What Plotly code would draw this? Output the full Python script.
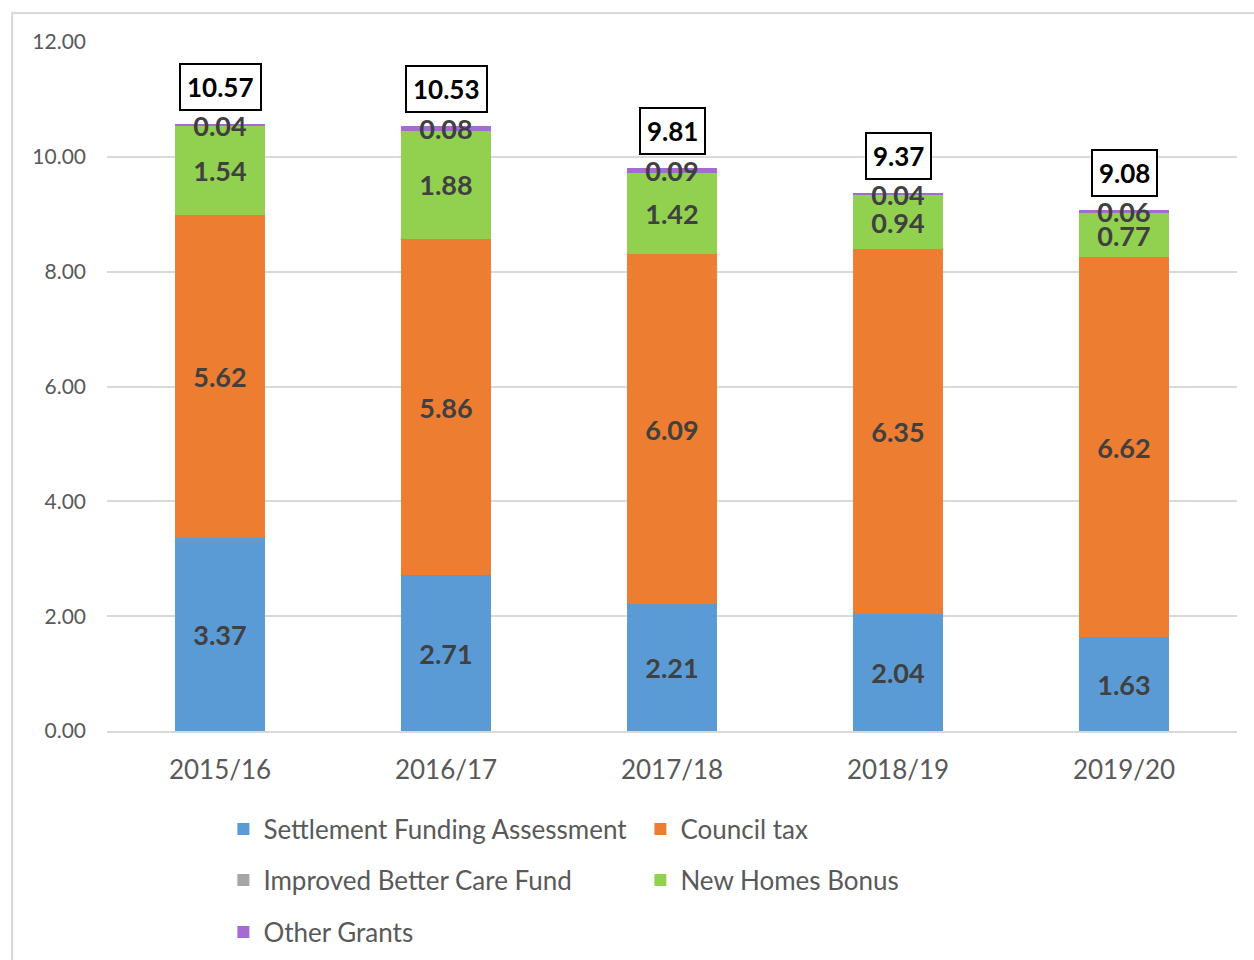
import plotly.graph_objects as go

categories = ["2015/16", "2016/17", "2017/18", "2018/19", "2019/20"]
sfa = [3.37, 2.71, 2.21, 2.04, 1.63]
council_tax = [5.62, 5.86, 6.09, 6.35, 6.62]
ibcf = [0, 0, 0, 0, 0]
nhb = [1.54, 1.88, 1.42, 0.94, 0.77]
other = [0.04, 0.08, 0.09, 0.04, 0.06]
totals = [10.57, 10.53, 9.81, 9.37, 9.08]
y_ticks = [0, 2, 4, 6, 8, 10, 12]

FONT = "Lato"
LABEL = dict(family=FONT, size=27, color="#404040")

series = [
    ("Settlement Funding Assessment", sfa, "#5B9BD5", "legend"),
    ("Council tax", council_tax, "#ED7D31", "legend"),
    ("Improved Better Care Fund", ibcf, "#A5A5A5", "legend2"),
    ("New Homes Bonus", nhb, "#92D050", "legend2"),
    ("Other Grants", other, "#A66BD3", "legend3"),
]

fig = go.Figure()
for name, vals, color, leg in series:
    txt = [f"<b>{v:.2f}</b>" if v > 0 else "" for v in vals]
    fig.add_trace(go.Bar(
        x=categories, y=vals, name=name, marker=dict(color=color, line=dict(width=0)),
        text=txt, textposition="inside", insidetextanchor="middle",
        textfont=LABEL, legend=leg, hoverinfo="skip", cliponaxis=False,
    ))

for c, t in zip(categories, totals):
    fig.add_annotation(
        x=c, y=t, text=f"<b>{t:.2f}</b>", showarrow=False, yanchor="bottom", yshift=13,
        font=dict(family=FONT, size=26, color="#000000"),
        bordercolor="#000000", borderwidth=2, borderpad=6, bgcolor="#FFFFFF",
    )

# outer chart border
fig.add_shape(type="rect", xref="paper", yref="paper",
              x0=-0.084, x1=1.2, y0=-0.6, y1=1.042,
              line=dict(color="#D9D9D9", width=2), layer="below")

legfont = dict(family=FONT, size=26, color="#595959")
common = dict(orientation="h", xanchor="left", yanchor="middle", x=0.103,
              xref="paper", yref="container",
              font=legfont, entrywidth=372, entrywidthmode="pixels",
              bgcolor="rgba(0,0,0,0)", traceorder="normal")
fig.update_layout(
    width=1254, height=960,
    margin=dict(l=107, r=17, t=42, b=229, autoexpand=False),
    paper_bgcolor="#FFFFFF", plot_bgcolor="#FFFFFF",
    barmode="stack", bargap=0.6,
    uniformtext=dict(mode="show", minsize=27),
    showlegend=True,
    legend=dict(y=1 - 829 / 960, **common),
    legend2=dict(y=1 - 880 / 960, **common),
    legend3=dict(y=1 - 932 / 960, **common),
    xaxis=dict(tickfont=dict(family=FONT, size=26, color="#595959"),
               showline=True, linecolor="#D9D9D9", linewidth=2, ticks="",
               ticklabelstandoff=15),
    yaxis=dict(range=[0, 12], tickvals=y_ticks, tickformat=".2f",
               tickfont=dict(family=FONT, size=21, color="#595959"),
               gridcolor="#D9D9D9", gridwidth=2, zeroline=False,
               ticklabelstandoff=20),
    font=dict(family=FONT),
)

fig.write_html("out.html", config={"displayModeBar": False},
               post_script="document.body.style.margin='0px';")
